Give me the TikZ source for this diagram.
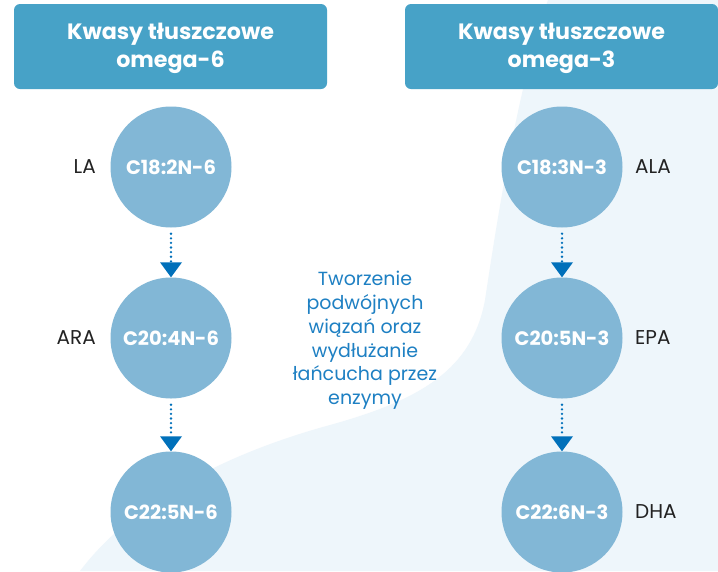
\documentclass[tikz,border=0pt]{standalone}
\usepackage{fontspec}
\setmainfont{Poppins}
\usetikzlibrary{arrows.meta}
\definecolor{headblue}{RGB}{71,162,199}
\definecolor{circblue}{RGB}{130,183,214}
\definecolor{arrblue}{RGB}{0,112,186}
\definecolor{txtblue}{RGB}{30,128,195}
\definecolor{paleblue}{RGB}{238,246,251}
\definecolor{labgray}{RGB}{34,34,34}
\tikzset{
  header/.style={fill=headblue, rounded corners=6pt, minimum width=313pt, minimum height=85pt,
    text=white, align=center, inner sep=0pt,
    font=\fontsize{22.2}{28}\selectfont\bfseries},
  acid/.style={circle, fill=circblue, minimum size=121pt, inner sep=0pt, text=white,
    font=\fontsize{19.5}{22}\selectfont\bfseries},
  lab/.style={text=labgray, inner sep=0pt, font=\fontsize{20}{22}\selectfont},
  conv/.style={arrblue, line width=2.6pt, line cap=round, dash pattern=on 0pt off 4.6pt,
    shorten <=6pt, -{Triangle[width=22pt,length=15pt,line width=0pt]}},
  note/.style={text=txtblue, align=center, inner sep=0pt,
    font=\fontsize{19}{23.8}\selectfont}
}
\begin{document}
\begin{tikzpicture}[x=1pt,y=-1pt]
\useasboundingbox (0,0) rectangle (718,571);
\fill[white] (0,0) rectangle (718,571);
% pale background shape
\fill[paleblue] (548,0) -- (718,0) -- (718,571) -- (80,571)
  .. controls (130,505) and (220,455) .. (330,425)
  .. controls (420,400) and (472,370) .. (485,300)
  .. controls (500,200) and (520,80) .. (548,0) -- cycle;
% headers
\node[header] (h6) at (170.5,46.5) {};
\node[header] (h3) at (561.5,46.5) {};
\node[header, fill=none, minimum width=0pt, minimum height=0pt] (t6) at (170.5,48.5) {Kwasy tłuszczowe\\omega-6};
\node[header, fill=none, minimum width=0pt, minimum height=0pt] (t3) at (561.5,48.5) {Kwasy tłuszczowe\\omega-3};
% omega-6 chain
\node[acid] (a1) at (171,167) {C18:2N-6};
\node[acid] (a2) at (171,338) {C20:4N-6};
\node[acid] (a3) at (171,512) {C22:5N-6};
% omega-3 chain
\node[acid] (b1) at (562,167) {C18:3N-3};
\node[acid] (b2) at (562,338) {C20:5N-3};
\node[acid] (b3) at (562,512) {C22:6N-3};
% labels
\node[lab, anchor=east] (la) at (96,167) {LA};
\node[lab, anchor=east] (ara) at (96,338) {ARA};
\node[lab, anchor=west] (ala) at (635,167) {ALA};
\node[lab, anchor=west] (epa) at (635,338) {EPA};
\node[lab, anchor=west] (dha) at (635,512) {DHA};
% connectors
\draw[conv] (a1) -- (a2);
\draw[conv] (a2) -- (a3);
\draw[conv] (b1) -- (b2);
\draw[conv] (b2) -- (b3);
% note
\node[note] (nt) at (365,340.5) {Tworzenie\\podwójnych\\wiązań oraz\\wydłużanie\\łańcucha przez\\enzymy};
\end{tikzpicture}
\end{document}
